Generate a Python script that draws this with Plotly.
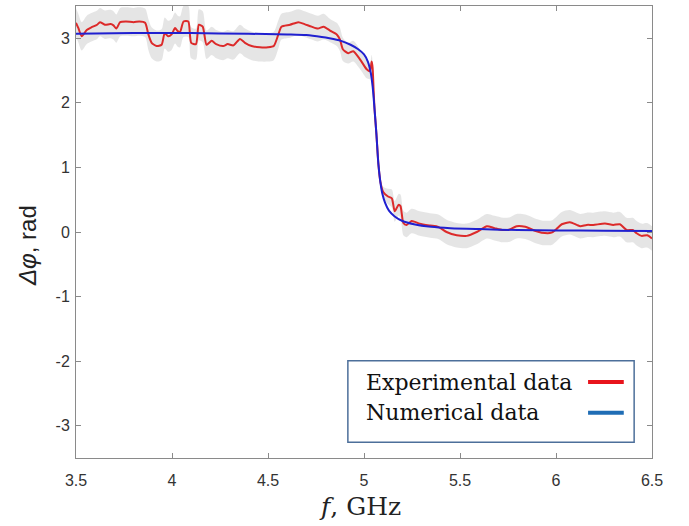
import plotly.graph_objects as go

# Measured phase difference (experiment)
freq_exp = [3.500, 3.512, 3.530, 3.556, 3.580, 3.610, 3.625, 3.650, 3.680, 3.695,
            3.710, 3.730, 3.760, 3.800, 3.830, 3.860, 3.877, 3.894, 3.920, 3.946,
            3.962, 3.980, 3.998, 4.016, 4.030, 4.042, 4.060, 4.085, 4.100, 4.125,
            4.140, 4.160, 4.180, 4.207, 4.230, 4.267, 4.290, 4.320, 4.354, 4.380,
            4.415, 4.458, 4.500, 4.530, 4.554, 4.570, 4.615, 4.658, 4.690, 4.727,
            4.760, 4.790, 4.823, 4.858, 4.875, 4.890, 4.918, 4.944, 4.980, 5.014,
            5.031, 5.040, 5.045, 5.050, 5.055, 5.065, 5.075, 5.085, 5.100, 5.125,
            5.145, 5.160, 5.180, 5.190, 5.205, 5.222, 5.248, 5.290, 5.344, 5.387,
            5.430, 5.483, 5.535, 5.587, 5.640, 5.680, 5.725, 5.760, 5.795, 5.840,
            5.890, 5.925, 5.977, 6.000, 6.030, 6.073, 6.108, 6.127, 6.160, 6.194,
            6.255, 6.298, 6.333, 6.368, 6.400, 6.420, 6.446, 6.475, 6.500]
phase_exp = [3.24, 3.16, 3.03, 3.13, 3.17, 3.21, 3.25, 3.21, 3.22, 3.20,
             3.15, 3.25, 3.26, 3.25, 3.26, 3.24, 3.06, 2.93, 2.88, 2.90,
             3.08, 3.03, 3.06, 3.16, 3.11, 3.10, 3.26, 3.26, 2.93, 2.91,
             3.21, 3.18, 2.90, 2.96, 2.91, 2.88, 2.91, 2.89, 2.99, 2.93,
             2.88, 2.86, 2.86, 2.88, 3.06, 3.18, 3.21, 3.25, 3.22, 3.18,
             3.15, 3.18, 3.12, 3.06, 2.98, 2.83, 2.77, 2.80, 2.67, 2.52,
             2.49, 2.64, 2.54, 2.20, 1.90, 1.50, 1.05, 0.78, 0.62, 0.55,
             0.52, 0.32, 0.42, 0.40, 0.14, 0.11, 0.17, 0.13, 0.10, 0.08,
             0.00, -0.05, -0.06, 0.00, 0.09, 0.06, 0.03, 0.04, 0.09, 0.08,
             0.02, -0.01, -0.01, 0.04, 0.12, 0.15, 0.11, 0.09, 0.11, 0.11,
             0.13, 0.11, 0.12, 0.03, 0.03, -0.02, -0.06, -0.05, -0.10]
# Half-width of the measurement uncertainty band
spread = [0.22, 0.22, 0.22, 0.22, 0.22, 0.22, 0.22, 0.22, 0.22, 0.22,
          0.22, 0.22, 0.22, 0.22, 0.22, 0.22, 0.24, 0.24, 0.24, 0.24,
          0.24, 0.24, 0.24, 0.24, 0.24, 0.24, 0.24, 0.24, 0.24, 0.24,
          0.24, 0.24, 0.22, 0.22, 0.22, 0.22, 0.22, 0.22, 0.22, 0.22,
          0.22, 0.22, 0.22, 0.22, 0.22, 0.20, 0.20, 0.20, 0.20, 0.20,
          0.20, 0.20, 0.18, 0.18, 0.18, 0.18, 0.16, 0.16, 0.15, 0.14,
          0.12, 0.10, 0.08, 0.05, 0.05, 0.05, 0.05, 0.06, 0.08, 0.12,
          0.14, 0.16, 0.17, 0.18, 0.19, 0.19, 0.19, 0.19, 0.19, 0.19,
          0.19, 0.19, 0.19, 0.19, 0.19, 0.19, 0.19, 0.19, 0.19, 0.19,
          0.19, 0.19, 0.19, 0.19, 0.19, 0.19, 0.19, 0.19, 0.19, 0.19,
          0.19, 0.19, 0.19, 0.19, 0.19, 0.19, 0.19, 0.19, 0.19]

# Simulated phase difference (numerical model)
freq_num = [3.50, 3.80, 4.10, 4.40, 4.60, 4.70, 4.78, 4.82, 4.88, 4.93,
            4.97, 5.00, 5.02, 5.035, 5.045, 5.055, 5.065, 5.075, 5.085, 5.095,
            5.11, 5.13, 5.16, 5.20, 5.26, 5.35, 5.45, 5.60, 5.80, 6.00,
            6.25, 6.50]
phase_num = [3.07, 3.08, 3.08, 3.07, 3.06, 3.05, 3.02, 3.00, 2.96, 2.90,
             2.83, 2.75, 2.64, 2.47, 2.25, 1.90, 1.50, 1.05, 0.78, 0.60,
             0.45, 0.33, 0.24, 0.17, 0.12, 0.08, 0.06, 0.045, 0.03, 0.025,
             0.02, 0.015]

x_ticks = [3.5, 4, 4.5, 5, 5.5, 6, 6.5]
y_ticks = [-3, -2, -1, 0, 1, 2, 3]
legend_labels = ["Experimental data", "Numerical data"]

band_hi = [p + s for p, s in zip(phase_exp, spread)]
band_lo = [p - s for p, s in zip(phase_exp, spread)]

fig = go.Figure()
fig.add_trace(go.Scatter(x=freq_exp, y=band_hi, mode="lines",
                         line=dict(width=0, shape="spline", smoothing=0.8),
                         hoverinfo="skip", showlegend=False))
fig.add_trace(go.Scatter(x=freq_exp, y=band_lo, mode="lines", fill="tonexty",
                         fillcolor="rgba(222,222,222,0.8)",
                         line=dict(width=0, shape="spline", smoothing=0.8),
                         hoverinfo="skip", showlegend=False))
fig.add_trace(go.Scatter(x=freq_exp, y=phase_exp, mode="lines",
                         name=legend_labels[0],
                         line=dict(color="#dc2a2a", width=2, shape="spline", smoothing=0.6),
                         showlegend=False))
fig.add_trace(go.Scatter(x=freq_num, y=phase_num, mode="lines",
                         name=legend_labels[1],
                         line=dict(color="#2020d0", width=2, shape="spline", smoothing=0.8),
                         showlegend=False))

axis_common = dict(showline=True, linecolor="#8a8a8a", linewidth=1, mirror="ticks",
                   ticks="inside", ticklen=5, tickcolor="#8a8a8a", showgrid=False,
                   zeroline=False,
                   tickfont=dict(family="Liberation Sans, Arial, sans-serif",
                                 size=16, color="#333333"))

fig.update_xaxes(range=[3.5, 6.5], tickvals=x_ticks,
                 ticktext=[f"{t:g}" for t in x_ticks], ticklabelstandoff=8,
                 **axis_common)
fig.update_yaxes(range=[-3.5, 3.5], tickvals=y_ticks,
                 ticktext=[f"{t:g}" for t in y_ticks], ticklabelstandoff=2,
                 **axis_common)

# Axis titles
fig.add_annotation(xref="paper", yref="paper", x=0.493, y=-0.108, text="<i>f</i>, GHz",
                   showarrow=False, xanchor="center", yanchor="middle",
                   font=dict(family="DejaVu Serif, serif", size=25, color="#222222"))
fig.add_annotation(xref="paper", yref="paper", x=-0.085, y=0.469, text="<i>Δφ</i>, rad",
                   showarrow=False, xanchor="center", yanchor="middle", textangle=-90,
                   font=dict(family="Liberation Sans, Arial, sans-serif", size=24, color="#222222"))

# Legend box with labels on the left and line samples on the right
fig.add_shape(type="rect", xref="paper", yref="paper", x0=0.472, x1=0.969, y0=0.035, y1=0.215,
              line=dict(color="#4d6f9a", width=1.5), fillcolor="white", layer="above")
legend_rows = [0.168, 0.100]
legend_colors = ["#e8141c", "#1f6db5"]
for label, yy, col in zip(legend_labels, legend_rows, legend_colors):
    fig.add_annotation(xref="paper", yref="paper", x=0.500, y=yy, text=label,
                       showarrow=False, xanchor="left", yanchor="middle",
                       font=dict(family="DejaVu Serif, serif", size=22, color="#111111"))
    fig.add_shape(type="line", xref="paper", yref="paper", x0=0.889, x1=0.951, y0=yy, y1=yy,
                  line=dict(color=col, width=4), layer="above")

fig.update_layout(width=689, height=526, margin=dict(l=76, r=37, t=6, b=68),
                  plot_bgcolor="white", paper_bgcolor="white", showlegend=False)

fig.write_html("out.html")
